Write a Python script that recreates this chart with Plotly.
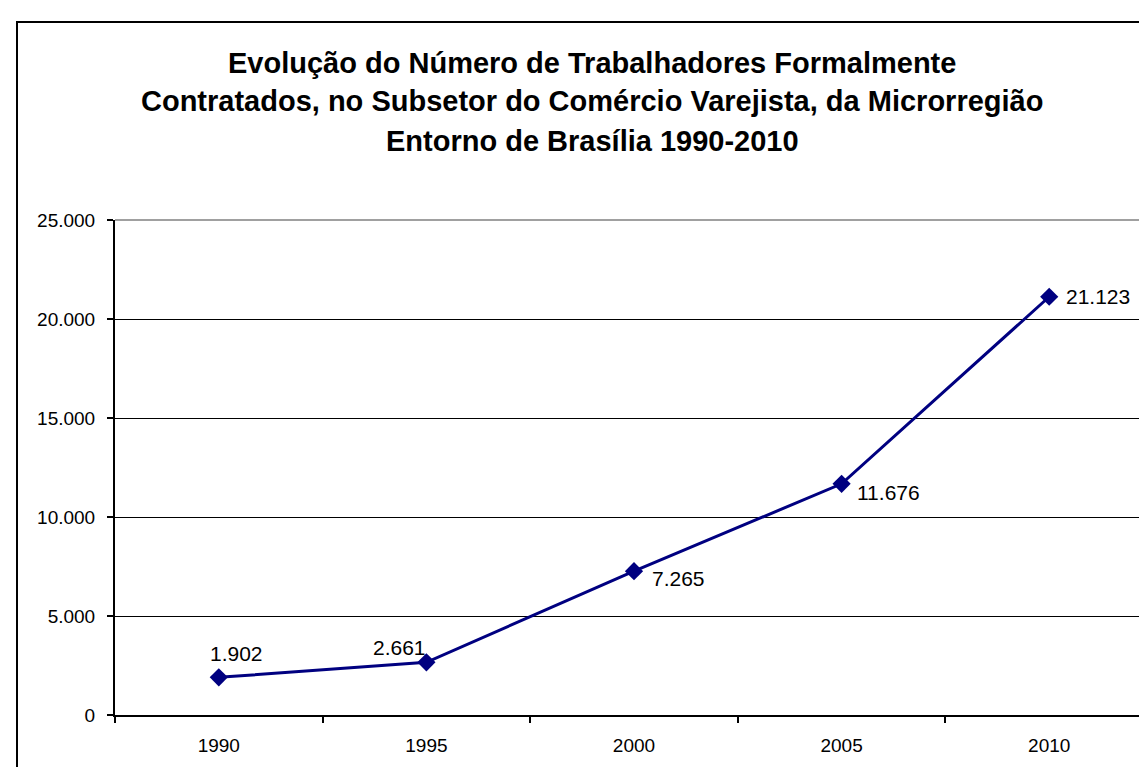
import plotly.graph_objects as go

years = ["1990", "1995", "2000", "2005", "2010"]
workers = [1902, 2661, 7265, 11676, 21123]
y_ticks = [0, 5000, 10000, 15000, 20000, 25000]
title_lines = [
    "Evolução do Número de Trabalhadores Formalmente",
    "Contratados, no Subsetor do Comércio Varejista, da Microrregião",
    "Entorno de Brasília 1990-2010",
]
# label offsets (px) relative to each point, mimicking manual Excel label placement
label_dx = [18, -27, 44, 47, 49]
label_dy = [24, 15, -7, -9, 0]

def fmt(v):
    return f"{v:,}".replace(",", ".")

W, H = 1147, 767
L, R, T, B = 107, 2, 212, 60
pw = W - L - R
ph = H - T - B

fig = go.Figure()
fig.add_trace(go.Scatter(
    x=years, y=workers, mode="lines+markers",
    line=dict(color="#000080", width=3),
    marker=dict(symbol="diamond", size=14, color="#000080"),
    hoverinfo="x+y", showlegend=False,
))

for i, (v, dx, dy) in enumerate(zip(workers, label_dx, label_dy)):
    fig.add_annotation(x=i, y=v, text=fmt(v), showarrow=False,
                       xanchor="center", yanchor="middle",
                       xshift=dx, yshift=dy,
                       font=dict(family="Liberation Sans, Arial", size=21, color="black"))

# title lines (cap centres at ~55, 93, 133 px from the top)
title_centres = [55, 93, 133]
for line, cy in zip(title_lines, title_centres):
    fig.add_annotation(xref="paper", yref="paper",
                       x=(584 - L) / pw, y=(H - B - cy) / ph,
                       text="<b>" + line + "</b>", showarrow=False,
                       xanchor="center", yanchor="middle",
                       font=dict(family="Liberation Sans, Arial", size=29, color="black"))

# outer chart border (extends beyond the right/bottom edges)
fig.add_shape(type="rect", xref="paper", yref="paper",
              x0=(9 - L) / pw, x1=(W + 10 - L) / pw,
              y0=-(H + 10 - T - ph) / ph, y1=1 + (T - 14) / ph,
              line=dict(color="black", width=2), layer="below")
# gray plot-area border top and right
fig.add_shape(type="line", xref="paper", yref="paper", x0=0, x1=1, y0=1, y1=1,
              line=dict(color="#808080", width=1.5), layer="above")
fig.add_shape(type="line", xref="paper", yref="paper", x0=1, x1=1, y0=0, y1=1,
              line=dict(color="#808080", width=1.5), layer="above")

fig.update_layout(
    width=W, height=H,
    margin=dict(l=L, r=R, t=T, b=B, autoexpand=False),
    paper_bgcolor="white", plot_bgcolor="white",
    separators=",.",
    font=dict(family="Liberation Sans, Arial", color="black"),
    xaxis=dict(type="category", range=[-0.5, len(years) - 0.5],
               tickson="boundaries", ticks="outside", ticklen=6, tickangle=0,
               tickwidth=1.5, tickcolor="black", showline=True, linecolor="black",
               linewidth=2, showgrid=False, zeroline=False,
               tickfont=dict(size=19, family="Liberation Sans, Arial", color="black"),
               ticklabelstandoff=12),
    yaxis=dict(range=[0, 25000], tickvals=y_ticks, tickformat=",d",
               ticks="outside", ticklen=6, tickwidth=1.5, tickcolor="black",
               showline=True, linecolor="black", linewidth=2,
               showgrid=True, gridcolor="black", gridwidth=1.3, zeroline=False,
               tickfont=dict(size=19, family="Liberation Sans, Arial", color="black"),
               ticklabelstandoff=8),
)

fig.write_html("out.html")
